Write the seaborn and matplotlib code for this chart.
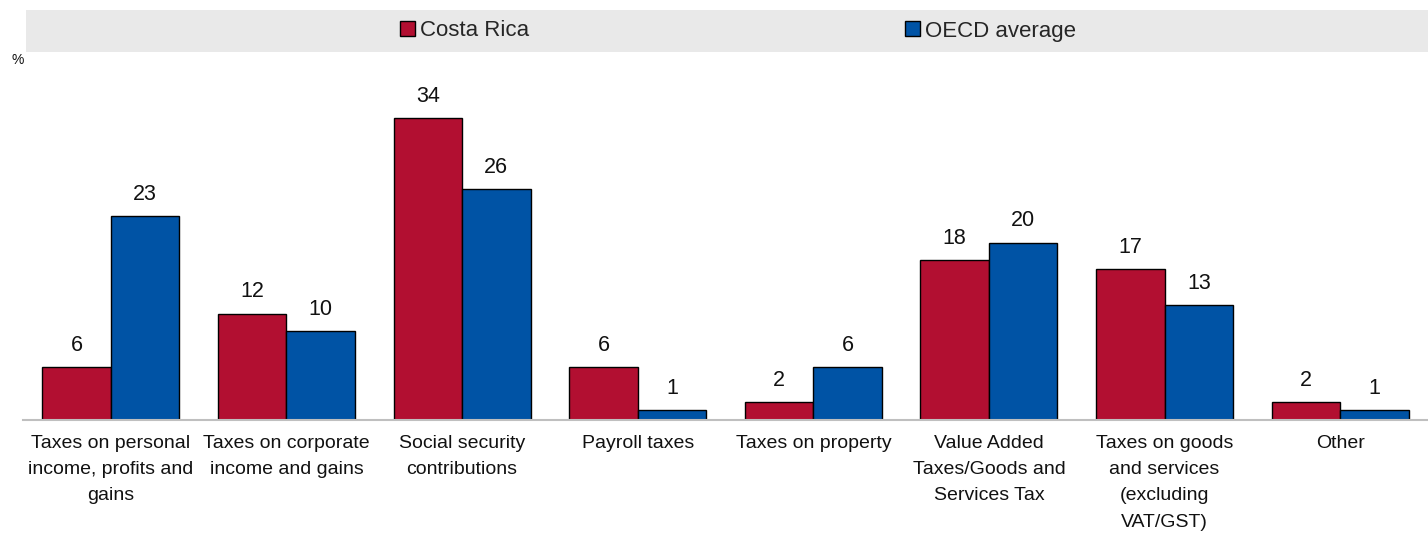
import matplotlib
matplotlib.use("Agg")
import matplotlib.pyplot as plt
import seaborn as sns
import pandas as pd
import numpy as np
from matplotlib.patches import Rectangle, Patch
from matplotlib.ticker import FixedLocator

categories = [
    "Taxes on personal\nincome, profits and\ngains",
    "Taxes on corporate\nincome and gains",
    "Social security\ncontributions",
    "Payroll taxes",
    "Taxes on property",
    "Value Added\nTaxes/Goods and\nServices Tax",
    "Taxes on goods\nand services\n(excluding\nVAT/GST)",
    "Other",
]
costa_rica = [6.0, 12.0, 34.0, 6.0, 2.0, 18.0, 17.0, 2.0]
oecd_average = [23.0, 10.0, 26.0, 1.1, 6.0, 20.0, 13.0, 1.1]
series_names = ["Costa Rica", "OECD average"]
colors = ["#B20F31", "#0053A5"]

df = pd.DataFrame({
    "category": categories * 2,
    "value": costa_rica + oecd_average,
    "series": [series_names[0]] * len(categories) + [series_names[1]] * len(categories),
})

sns.set_theme(style="white")
plt.rcParams["font.family"] = ["Liberation Sans", "DejaVu Sans"]

fig = plt.figure(figsize=(14.28, 5.33), dpi=100)
ax = fig.add_axes([23 / 1428, 113 / 533, 1 - 23 / 1428, 355 / 533])

sns.barplot(data=df, x="category", y="value", hue="series", palette=colors,
            width=0.78, edgecolor="black", linewidth=1.0, ax=ax, legend=False,
            saturation=1)

for cont in ax.containers:
    ax.bar_label(cont, fmt="%.0f", padding=8, fontsize=15.5, color="#111111")

ax.set_ylim(0, 40)
ax.set_xlim(-0.5, len(categories) - 0.5)
ax.set_xlabel("")
ax.set_ylabel("")
ax.set_yticks([])
for s in ["top", "right", "left"]:
    ax.spines[s].set_visible(False)
ax.spines["bottom"].set_color("#BFBFBF")
ax.spines["bottom"].set_linewidth(1.5)

ax.tick_params(axis="x", which="major", length=0, pad=10.5, labelsize=14, labelcolor="#111111")
ax.xaxis.set_minor_locator(FixedLocator(np.arange(-0.5, len(categories) - 0.5, 1.0)))
ax.tick_params(axis="x", which="minor", direction="in", length=7, width=1.5, color="#BFBFBF")
for lbl in ax.get_xticklabels():
    lbl.set_linespacing(1.72)

# legend band
fig.patches.append(Rectangle((26 / 1428, 1 - 52 / 533), 1 - 26 / 1428, 42 / 533,
                             transform=fig.transFigure, facecolor="#E9E9E9",
                             edgecolor="none", zorder=0))
handles = [Patch(facecolor=c, edgecolor="black", linewidth=1.0) for c in colors]
fig.legend(handles, series_names, loc="center", bbox_to_anchor=(738 / 1428, 1 - 31 / 533),
           ncol=2, frameon=False, fontsize=16, handlelength=0.68, handleheight=0.68,
           handletextpad=0.22, columnspacing=16.9)

fig.text(18 / 1428, 1 - 60 / 533, "%", fontsize=10, ha="center", va="center", color="#111111")

fig.savefig("out.png", dpi=100)
